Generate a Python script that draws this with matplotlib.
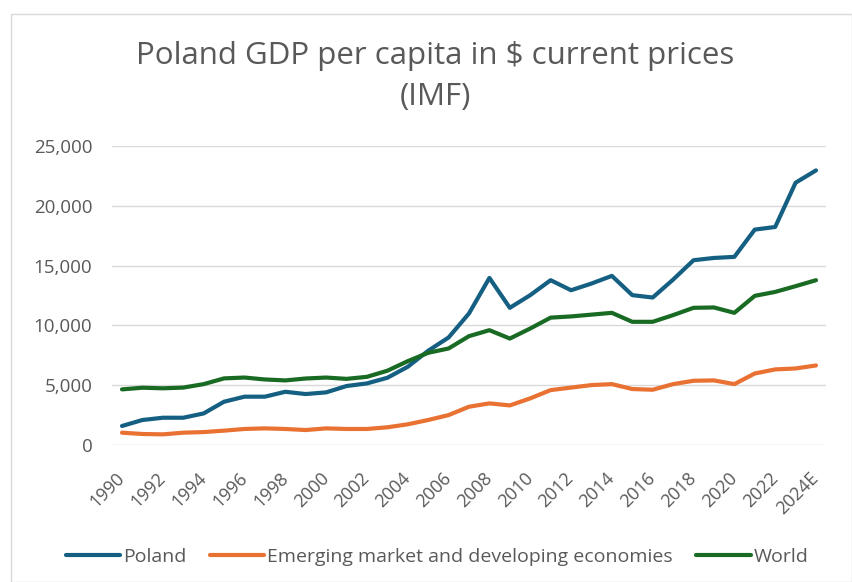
import matplotlib
matplotlib.use("Agg")
import matplotlib.pyplot as plt
from matplotlib.patches import Rectangle

years = [str(y) for y in range(1990, 2024)] + ["2024E"]

poland = [1590, 2090, 2280, 2280, 2640, 3620, 4040, 4040, 4450, 4260,
          4400, 4930, 5150, 5620, 6540, 7880, 8990, 11000, 13970, 11470,
          12530, 13780, 12940, 13500, 14140, 12530, 12330, 13830, 15450, 15640,
          15730, 18010, 18230, 21930, 22960]
emerging = [1030, 920, 890, 1030, 1080, 1200, 1340, 1390, 1340, 1250,
            1390, 1340, 1340, 1480, 1730, 2090, 2500, 3200, 3480, 3310,
            3900, 4590, 4800, 5010, 5090, 4680, 4620, 5090, 5370, 5400,
            5090, 5980, 6320, 6400, 6650]
world = [4650, 4790, 4740, 4800, 5090, 5570, 5640, 5480, 5400, 5560,
         5640, 5530, 5700, 6210, 7010, 7710, 8070, 9100, 9600, 8900,
         9740, 10650, 10750, 10900, 11050, 10300, 10300, 10860, 11470, 11500,
         11050, 12470, 12800, 13280, 13780]

series_names = ["Poland", "Emerging market and developing economies", "World"]
colors = ["#156082", "#E97132", "#196B24"]
title = "Poland GDP per capita in $ current prices\n(IMF)"
yticks = [0, 5000, 10000, 15000, 20000, 25000]

plt.rcParams['font.family'] = ['Open Sans', 'DejaVu Sans']
txt = "#595959"

fig = plt.figure(figsize=(8.52, 5.82), dpi=100)
fig.patches.append(Rectangle((11/852, 0), 1 - 11/852, 1 - 14/582, transform=fig.transFigure,
                             fill=False, edgecolor="#d9d9d9", linewidth=1))
ax = fig.add_axes([111.8/852, 1 - 445/582, (826.2 - 111.8)/852, (445 - 146)/582])

x = list(range(len(years)))
for vals, name, c in zip([poland, emerging, world], series_names, colors):
    ax.plot(x, vals, color=c, lw=3, label=name, solid_capstyle='round', solid_joinstyle='round')

ax.set_xlim(-0.5, len(years) - 0.5)
ax.set_ylim(0, 25000)
ax.set_yticks(yticks)
ax.set_yticklabels([f"{v:,}" for v in yticks], color=txt, fontsize=13.5)
ax.set_xticks(x[::2])
ax.set_xticklabels(years[::2], rotation=45, ha='right', va='center', rotation_mode='anchor',
                   color=txt, fontsize=13)
ax.tick_params(axis='y', length=0, pad=14)
ax.tick_params(axis='x', length=0, pad=22)
ax.grid(axis='y', color="#d9d9d9", lw=1)
ax.set_axisbelow(True)
for s in ax.spines.values():
    s.set_visible(False)

fig.text(435/852, 1 - 76.5/582, title, ha='center', va='center', fontsize=22.5,
         color=txt, linespacing=1.5)

fig.legend(loc='center', bbox_to_anchor=(437/852, 1 - 557/582), ncol=3, frameon=False,
           fontsize=14, labelcolor=txt, handlelength=2.8, handletextpad=0.15,
           columnspacing=1.2)

fig.savefig("out.png", dpi=100)
